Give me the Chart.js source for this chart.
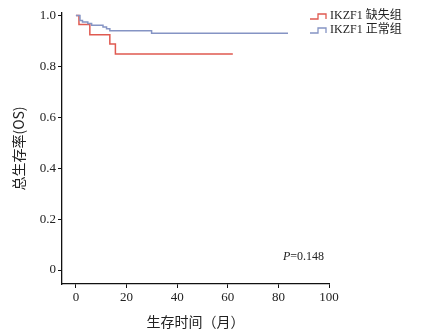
<!DOCTYPE html>
<html>
<head>
<meta charset="utf-8">
<script src="https://cdn.jsdelivr.net/npm/chart.js@4.4.0/dist/chart.umd.min.js"></script>
<style>
  html, body { margin: 0; padding: 0; background: #fff; }
  #wrap { width: 425px; height: 335px; }
</style>
</head>
<body>
<div id="wrap"><canvas id="km"></canvas></div>
<script>
// survival curves (months, OS)
var lossTime  = [0, 1.2, 5.5, 13.4, 15.6, 62];
var lossOS    = [1, 0.965, 0.925, 0.888, 0.849, 0.849];
var normTime  = [0, 1.6, 2.6, 4.7, 6.2, 10.7, 12.1, 13.4, 29.9, 83.8];
var normOS    = [1, 0.981, 0.975, 0.969, 0.962, 0.955, 0.948, 0.940, 0.930, 0.930];
var xTicks = [0, 20, 40, 60, 80, 100];
var yTicks = [0, 0.2, 0.4, 0.6, 0.8, 1.0];
var seriesNames = ["IKZF1 缺失组", "IKZF1 正常组"];
var pText = "=0.148";

var red = "#e05a50";
var blue = "#8594c4";
var serif = "'Liberation Serif', 'Noto Sans CJK SC', serif";
var cjk = "'Noto Sans CJK SC', sans-serif";

function pts(xs, ys) {
  return xs.map(function (x, i) { return { x: x, y: ys[i] }; });
}

// legend + P value drawn on top
var extras = {
  id: "extras",
  afterDraw: function (chart) {
    var c = chart.ctx;
    var cols = [red, blue];
    c.save();
    for (var i = 0; i < 2; i++) {
      var y = 16 + i * 14;
      c.strokeStyle = cols[i];
      c.lineWidth = 1.3;
      c.beginPath();
      c.moveTo(310, y + 3);
      c.lineTo(318, y + 3);
      c.lineTo(318, y - 2);
      c.lineTo(326, y - 2);
      c.lineTo(326, y + 3);
      c.stroke();
      c.fillStyle = "#222";
      c.font = "12px " + serif;
      c.textBaseline = "middle";
      c.fillText(seriesNames[i], 330, y);
    }
    c.font = "italic 12px " + serif;
    c.fillText("P", 283, 257);
    var w = c.measureText("P").width;
    c.font = "12px " + serif;
    c.fillText(pText, 283 + w, 257);
    c.restore();
  }
};

new Chart(document.getElementById("km"), {
  type: "line",
  data: {
    datasets: [
      { label: seriesNames[1], data: pts(normTime, normOS), borderColor: blue, borderWidth: 1.5, stepped: "before", pointRadius: 0, fill: false },
      { label: seriesNames[0], data: pts(lossTime, lossOS), borderColor: red, borderWidth: 1.5, stepped: "before", pointRadius: 0, fill: false }
    ]
  },
  options: {
    responsive: true,
    maintainAspectRatio: false,
    animation: false,
    layout: { padding: { left: 0, right: 96, top: 13, bottom: 0 } },
    plugins: { legend: { display: false }, tooltip: { enabled: false } },
    scales: {
      x: {
        type: "linear",
        min: -5.5,
        max: 100,
        afterBuildTicks: function (s) { s.ticks = xTicks.map(function (v) { return { value: v }; }); },
        afterFit: function (s) { s.height = 51; },
        grid: { drawOnChartArea: false, color: "#111", tickLength: 4 },
        border: { color: "#111", width: 1.3 },
        ticks: { color: "#222", font: { family: serif, size: 13 }, padding: 2, maxRotation: 0 },
        title: { display: true, text: "生存时间（月）", color: "#222", font: { family: cjk, size: 14 }, padding: { top: 0, bottom: 5 } }
      },
      y: {
        min: -0.055,
        max: 1.01,
        afterBuildTicks: function (s) { s.ticks = yTicks.map(function (v) { return { value: v }; }); },
        afterFit: function (s) { s.width = 62; },
        grid: { drawOnChartArea: false, color: "#111", tickLength: 4 },
        border: { color: "#111", width: 1.3 },
        ticks: {
          color: "#222", font: { family: serif, size: 13 }, padding: 2,
          callback: function (v) { return v === 0 ? "0" : v.toFixed(1); }
        },
        title: { display: true, text: "总生存率(OS)", color: "#222", font: { family: cjk, size: 14 }, padding: { top: 10, bottom: 0 } }
      }
    }
  },
  plugins: [extras]
});
</script>
</body>
</html>
